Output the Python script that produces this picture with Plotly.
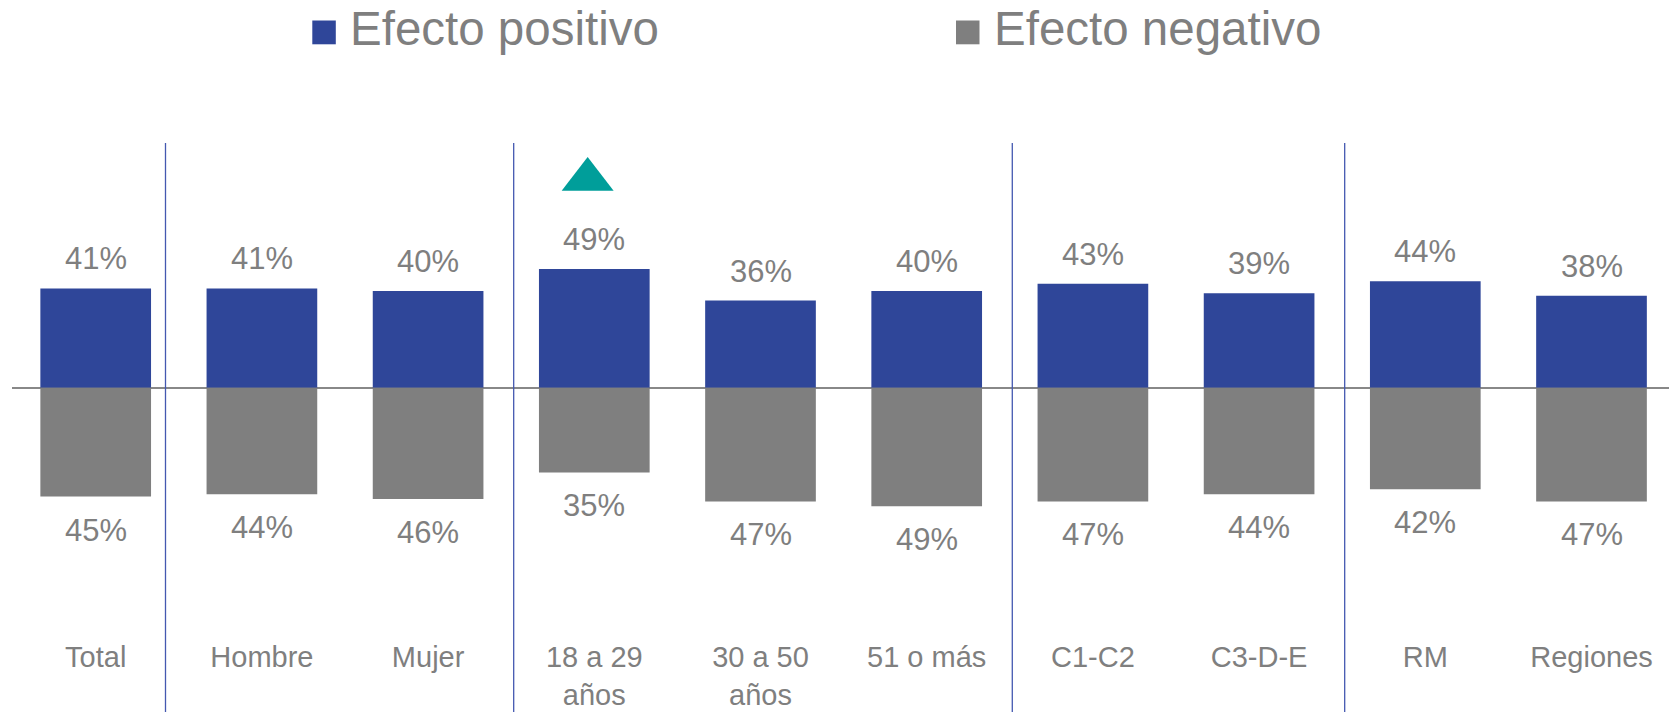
import plotly.graph_objects as go

# ---- data ----
categories = ["Total", "Hombre", "Mujer", "18 a 29<br>años", "30 a 50<br>años",
              "51 o más", "C1-C2", "C3-D-E", "RM", "Regiones"]
positivo = [41, 41, 40, 49, 36, 40, 43, 39, 44, 38]
negativo = [45, 44, 46, 35, 47, 49, 47, 44, 42, 47]
sig_up_index = [3]  # category with significant increase (teal triangle)
series_names = ["Efecto positivo", "Efecto negativo"]

# ---- layout constants ----
W, H = 1669, 712
ML, MR, MT, MB = 12, 0, 143, 75
plot_w = W - ML - MR
plot_h = H - MT - MB
zero_px = 387.7
px_per_unit = 2.42
cat0_px = 95.7
cat_step = 166.2
separators = [0.42, 2.515, 5.515, 7.515]

BLUE = "#2F4699"
GRAY = "#7F7F7F"
TEAL = "#009E9A"
SEP = "#4458B0"
TXT = "#7F7F7F"
FONT = "Liberation Sans, Arial, sans-serif"

x_idx = list(range(len(categories)))
y_top = (zero_px - MT) / px_per_unit
y_bot = -(MT + plot_h - zero_px) / px_per_unit
x_lo = -(cat0_px - ML) / cat_step
x_hi = x_lo + plot_w / cat_step


def pxx(p):
    return (p - ML) / plot_w


def pxy(p):
    return (MT + plot_h - p) / plot_h


fig = go.Figure()
fig.add_trace(go.Bar(x=x_idx, y=positivo, marker=dict(color=BLUE, line=dict(width=0)),
                     width=0.666, name=series_names[0], showlegend=False))
fig.add_trace(go.Bar(x=x_idx, y=[-v for v in negativo], marker=dict(color=GRAY, line=dict(width=0)),
                     width=0.666, name=series_names[1], showlegend=False))
fig.add_trace(go.Scatter(x=[x_idx[i] - 0.04 for i in sig_up_index],
                         y=[positivo[i] + 37 for i in sig_up_index],
                         mode="markers",
                         marker=dict(symbol="triangle-up", size=45, color=TEAL, line=dict(width=0)),
                         showlegend=False, hoverinfo="skip"))

annotations = []
for i, (p, n) in enumerate(zip(positivo, negativo)):
    annotations.append(dict(x=i, y=p, text=f"{p}%", showarrow=False, xanchor="center",
                            yanchor="bottom", yshift=10, font=dict(size=31, color=TXT, family=FONT)))
    annotations.append(dict(x=i, y=-n, text=f"{n}%", showarrow=False, xanchor="center",
                            yanchor="top", yshift=-14, font=dict(size=31, color=TXT, family=FONT)))

shapes = []
for s in separators:
    shapes.append(dict(type="line", xref="x", yref="paper", x0=s, x1=s,
                       y0=-(MB) / plot_h, y1=1, line=dict(color=SEP, width=1.3)))

# custom legend
legend_items = [(series_names[0], BLUE, 312.3, 349.0), (series_names[1], GRAY, 956.0, 993.0)]
for name, col, sq_x, tx_x in legend_items:
    shapes.append(dict(type="rect", xref="paper", yref="paper",
                       x0=pxx(sq_x), x1=pxx(sq_x + 23.5), y0=pxy(44.3), y1=pxy(20.5),
                       fillcolor=col, line=dict(width=0)))
    annotations.append(dict(xref="paper", yref="paper", x=pxx(tx_x - 1), y=pxy(28.4),
                            text=name, showarrow=False, xanchor="left", yanchor="middle",
                            font=dict(size=47.5, color=TXT, family=FONT)))

fig.update_layout(
    width=W, height=H,
    margin=dict(l=ML, r=MR, t=MT, b=MB, pad=0, autoexpand=False),
    paper_bgcolor="white", plot_bgcolor="white",
    barmode="overlay",
    showlegend=False,
    font=dict(family=FONT, color=TXT),
    xaxis=dict(range=[x_lo, x_hi], tickmode="array", tickvals=x_idx, ticktext=categories,
               showgrid=False, zeroline=False, showline=False, ticks="", automargin=False,
               tickfont=dict(size=29, color=TXT, family=FONT)),
    yaxis=dict(range=[y_bot, y_top], showgrid=False, showticklabels=False, ticks="",
               automargin=False,
               zeroline=True, zerolinecolor="#888888", zerolinewidth=2.3, showline=False),
    annotations=annotations,
    shapes=shapes,
)

fig.write_html("out.html", config={"displayModeBar": False},
               post_script="document.body.style.margin='0';document.body.style.overflow='hidden';")
